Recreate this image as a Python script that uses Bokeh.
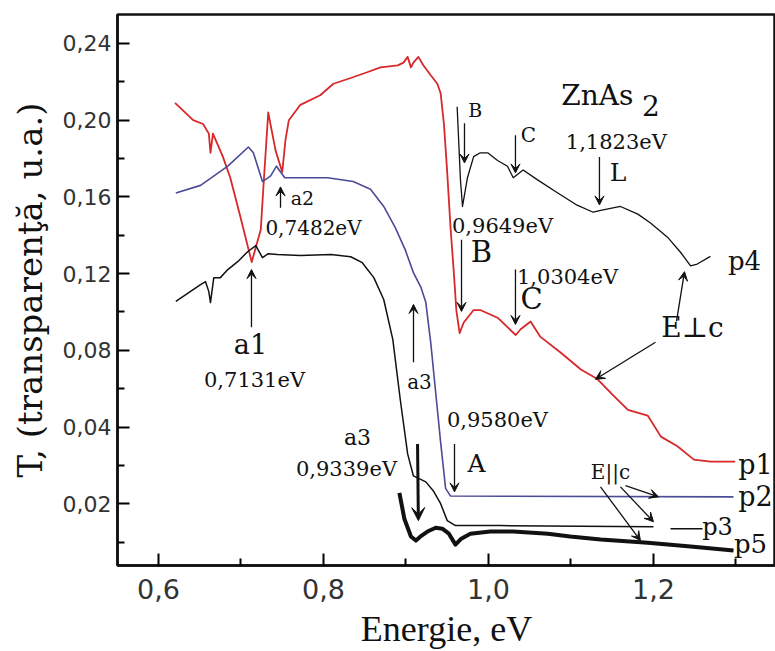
from bokeh.plotting import figure
from bokeh.models import Range1d, FixedTicker, CustomJSTickFormatter, Label, Arrow, VeeHead
from bokeh.embed import file_html
from bokeh.resources import INLINE

# ---- data (T in axis units; the axis tick at 0.00 is labelled "0,02") ----
p1_E = [0.620, 0.642, 0.654, 0.661, 0.663, 0.666, 0.678, 0.687, 0.699, 0.713,
        0.724, 0.727, 0.733, 0.742, 0.750, 0.754, 0.758, 0.772, 0.796, 0.812,
        0.833, 0.853, 0.869, 0.890, 0.897, 0.902, 0.906, 0.909, 0.915, 0.921,
        0.930, 0.938, 0.942, 0.946, 0.950, 0.954, 0.958, 0.961, 0.965, 0.970,
        0.982, 0.990, 1.011, 1.033, 1.039, 1.051, 1.063, 1.087, 1.112, 1.132,
        1.150, 1.169, 1.193, 1.209, 1.229, 1.249, 1.269, 1.299]
p1_T = [0.209, 0.200, 0.198, 0.193, 0.183, 0.193, 0.181, 0.170, 0.150, 0.126,
        0.143, 0.164, 0.204, 0.184, 0.173, 0.190, 0.200, 0.208, 0.213, 0.219,
        0.222, 0.225, 0.2275, 0.2286, 0.230, 0.233, 0.2275, 0.230, 0.233, 0.2286,
        0.2234, 0.219, 0.214, 0.198, 0.1725, 0.144, 0.1205, 0.101, 0.089, 0.0945,
        0.101, 0.101, 0.097, 0.088, 0.091, 0.095, 0.087, 0.079, 0.070, 0.065,
        0.057, 0.049, 0.046, 0.035, 0.030, 0.023, 0.022, 0.022]

p2_E = [0.621, 0.651, 0.684, 0.709, 0.715, 0.726, 0.736, 0.743, 0.753, 0.772,
        0.805, 0.836, 0.857, 0.873, 0.887, 0.899, 0.909, 0.918, 0.924, 0.930,
        0.936, 0.942, 0.948, 0.954, 1.297]
p2_T = [0.162, 0.166, 0.176, 0.186, 0.183, 0.168, 0.171, 0.176, 0.170, 0.170,
        0.170, 0.168, 0.164, 0.155, 0.144, 0.1325, 0.1205, 0.113, 0.105, 0.084,
        0.058, 0.032, 0.008, 0.004, 0.0036]

p3_E = [0.621, 0.642, 0.651, 0.657, 0.661, 0.663, 0.667, 0.675, 0.684, 0.696,
        0.708, 0.718, 0.726, 0.733, 0.744, 0.772, 0.809, 0.833, 0.847, 0.861,
        0.873, 0.884, 0.893, 0.902, 0.909, 0.924, 0.933, 0.942, 0.950, 0.960,
        1.015, 1.200]
p3_T = [0.1055, 0.1117, 0.1143, 0.1158, 0.1106, 0.1049, 0.1179, 0.1179, 0.1221, 0.1262,
        0.1314, 0.1346, 0.1283, 0.1304, 0.1299, 0.1294, 0.1299, 0.1288, 0.1257, 0.1179,
        0.1065, 0.0857, 0.0545, 0.0260, 0.0145, 0.0114, 0.0068, 0.0, -0.0088, -0.0114,
        -0.0114, -0.0120]

p4_E = [0.962, 0.966, 0.9685, 0.9745, 0.982, 0.990, 0.999, 1.011, 1.023, 1.030,
        1.042, 1.059, 1.084, 1.106, 1.127, 1.136, 1.160, 1.181, 1.196, 1.217,
        1.233, 1.245, 1.253, 1.269]
p4_T = [0.207, 0.169, 0.155, 0.170, 0.181, 0.183, 0.183, 0.179, 0.176, 0.170,
        0.174, 0.169, 0.162, 0.156, 0.152, 0.153, 0.155, 0.151, 0.1465, 0.139,
        0.131, 0.124, 0.125, 0.129]

p5_E = [0.892, 0.898, 0.906, 0.912, 0.919, 0.926, 0.936, 0.944, 0.952, 0.960,
        0.967, 0.978, 1.002, 1.030, 1.072, 1.099, 1.136, 1.193, 1.245, 1.297]
p5_T = [0.0057, -0.0078, -0.0171, -0.0192, -0.0166, -0.0145, -0.0125, -0.0130, -0.0156, -0.0213,
        -0.0182, -0.0156, -0.0145, -0.0145, -0.0156, -0.0171, -0.0187, -0.0203, -0.0223, -0.0244]

x_major = [0.6, 0.8, 1.0, 1.2]
x_minor = [0.7, 0.9, 1.1, 1.3]
y_major = [0.24, 0.20, 0.16, 0.12, 0.08, 0.04, 0.0]
y_minor = [0.22, 0.18, 0.14, 0.10, 0.06, 0.02, -0.02]

RED = "#d8282a"
BLUE = "#4b4b98"
BLACK = "#111111"
SERIF = "DejaVu Serif"

p = figure(width=775, height=651, output_backend="svg", toolbar_location=None,
           x_range=Range1d(0.5503, 1.3479), y_range=Range1d(-0.0322, 0.2551),
           min_border_left=117, min_border_right=0, min_border_top=14, min_border_bottom=84)
p.background_fill_color = "white"
p.border_fill_color = "white"
p.grid.visible = False
p.outline_line_color = BLACK
p.outline_line_width = 2.5

for ax in (p.xaxis[0], p.yaxis[0]):
    ax.axis_line_width = 2.5
    ax.axis_line_color = BLACK
    ax.major_tick_in = 12
    ax.major_tick_out = 0
    ax.minor_tick_in = 7
    ax.minor_tick_out = 0
    ax.major_tick_line_width = 2
    ax.minor_tick_line_width = 2
    ax.major_label_text_font = "DejaVu Sans"
    ax.major_label_text_color = "#333333"
    ax.axis_label_text_font_style = "normal"
    ax.axis_label_text_color = BLACK

p.xaxis.ticker = FixedTicker(ticks=x_major, minor_ticks=x_minor)
p.xaxis.formatter = CustomJSTickFormatter(code="return tick.toFixed(1).replace('.', ',');")
p.xaxis.major_label_text_font_size = "27px"
p.xaxis.major_label_standoff = 13
p.xaxis.axis_label = "Energie, eV"
p.xaxis.axis_label_text_font = "Liberation Serif"
p.xaxis.axis_label_text_font_size = "36px"
p.xaxis.axis_label_standoff = 7

p.yaxis.ticker = FixedTicker(ticks=y_major, minor_ticks=y_minor)
p.yaxis.formatter = CustomJSTickFormatter(
    code="return Math.abs(tick) < 1e-6 ? '0,02' : tick.toFixed(2).replace('.', ',');")
p.yaxis.major_label_text_font_size = "22px"
p.yaxis.major_label_standoff = 6
p.yaxis.axis_label = "T, (transparenţă, u.a.)"
p.yaxis.axis_label_text_font = SERIF
p.yaxis.axis_label_text_font_size = "34px"
p.yaxis.axis_label_standoff = 10

# ---- curves ----
p.line(p1_E, p1_T, line_color=RED, line_width=1.8, line_join="round")
p.line(p2_E, p2_T, line_color=BLUE, line_width=1.6, line_join="round")
p.line(p3_E, p3_T, line_color=BLACK, line_width=1.5, line_join="round")
p.line(p4_E, p4_T, line_color=BLACK, line_width=1.3, line_join="round")
p.line(p5_E, p5_T, line_color=BLACK, line_width=4, line_join="round")

# ---- annotations ----
def lab(x, y, t, size, font=SERIF, align="center"):
    p.add_layout(Label(x=x, y=y, text=t, text_font=font, text_font_size=f"{size}px",
                       text_align=align, text_baseline="middle", text_color=BLACK))

def arr(x0, y0, x1, y1, w=1.3, head=9):
    p.add_layout(Arrow(end=VeeHead(size=head, line_color=BLACK, fill_color=BLACK, line_width=1),
                       x_start=x0, y_start=y0, x_end=x1, y_end=y1,
                       line_color=BLACK, line_width=w))

lab(1.132, 0.213, "ZnAs", 28)
lab(1.197, 0.2075, "2", 28)
lab(0.984, 0.2052, "B", 19)
lab(1.0485, 0.1922, "C", 20)
lab(1.155, 0.1886, "1,1823eV", 21)
lab(1.157, 0.1725, "L", 25)
lab(1.017, 0.1449, "0,9649eV", 21)
lab(0.9915, 0.1314, "B", 29)
lab(1.0958, 0.1184, "1,0304eV", 21)
lab(1.0521, 0.1065, "C", 29)
lab(1.3103, 0.1268, "p4", 26)
lab(1.2473, 0.0919, "E\u22a5c", 28)
lab(1.3236, 0.0203, "p1", 27)
lab(1.3236, 0.0036, "p2", 27)
lab(1.2776, -0.0119, "p3", 24)
lab(1.3176, -0.0208, "p5", 26)
lab(1.1479, 0.0166, "E||c", 20)
lab(1.0109, 0.0436, "0,9580eV", 21)
lab(0.9855, 0.0208, "A", 25)
lab(0.9164, 0.0634, "a3", 20)
lab(0.8412, 0.0348, "a3", 22)
lab(0.8279, 0.0182, "0,9339eV", 21)
lab(0.7115, 0.0831, "a1", 27)
lab(0.7164, 0.0644, "0,7131eV", 21)
lab(0.7745, 0.1595, "a2", 19)
lab(0.7879, 0.1439, "0,7482eV", 20)

arr(0.7127, 0.0920, 0.7127, 0.1221)   # a1
arr(0.7479, 0.1543, 0.7479, 0.1652)   # a2
arr(0.9091, 0.0738, 0.9091, 0.1039)   # a3 up
arr(0.9140, 0.0312, 0.9150, -0.0088, w=3, head=13)  # a3 down
arr(0.9588, 0.0312, 0.9588, 0.0062)   # A
arr(0.9673, 0.1377, 0.9673, 0.1003)   # B lower
arr(1.0327, 0.1221, 1.0327, 0.0935)   # C lower
arr(0.9709, 0.1984, 0.9709, 0.1777)   # B upper
arr(1.0327, 0.1922, 1.0327, 0.1725)   # C upper
arr(1.1345, 0.1808, 1.1345, 0.1558)   # L
arr(1.2279, 0.0951, 1.2376, 0.1210)   # E perp -> p4
arr(1.2024, 0.0842, 1.1297, 0.0649)   # E perp -> p1
arr(1.1661, 0.0094, 1.2061, 0.0036)   # E||c -> p2
arr(1.1600, 0.0088, 1.2000, -0.0094)  # E||c -> p3
arr(1.1358, 0.0088, 1.1842, -0.0192)  # E||c -> p5
p.add_layout(Arrow(end=None, x_start=1.2206, y_start=-0.0130, x_end=1.2594, y_end=-0.0130,
                   line_color=BLACK, line_width=1.5))  # p3 leader

open("out.html", "w").write(file_html(p, INLINE))
